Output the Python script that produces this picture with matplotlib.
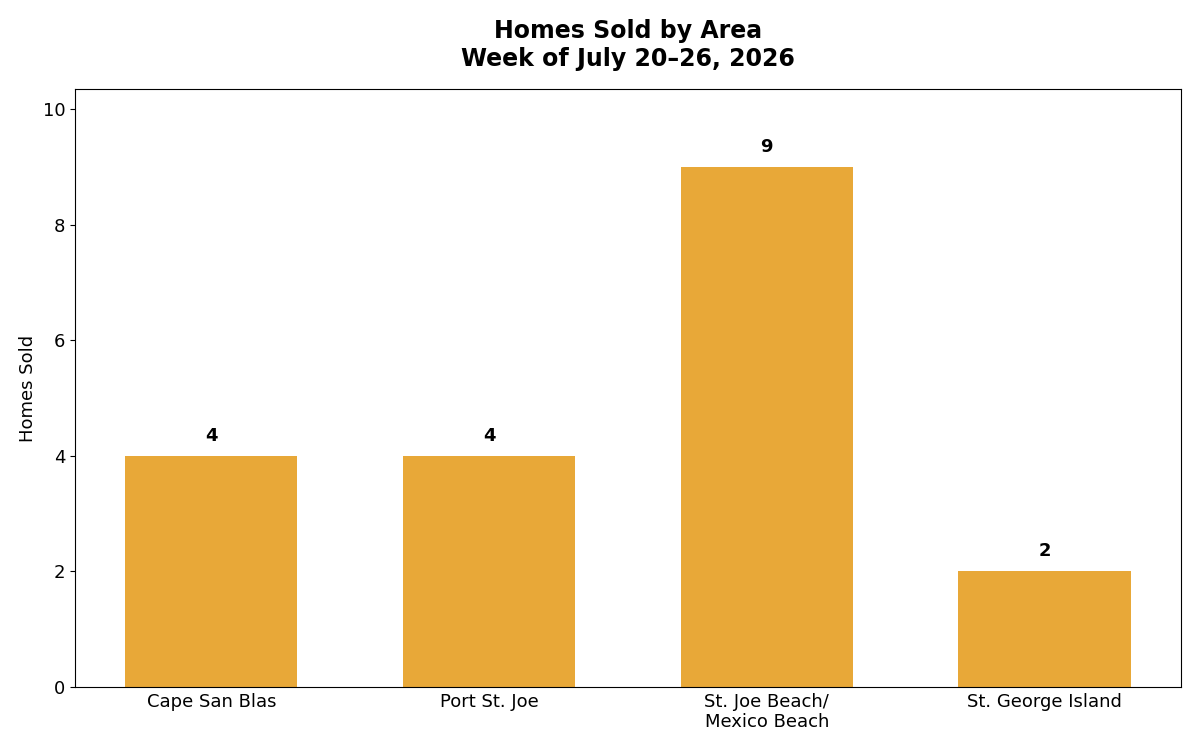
import matplotlib
matplotlib.use('Agg')
import matplotlib.pyplot as plt

# data
areas = ['Cape San Blas', 'Port St. Joe', 'St. Joe Beach/\nMexico Beach', 'St. George Island']
homes_sold = [4, 4, 9, 2]

fig, ax = plt.subplots(figsize=(12, 7.5), dpi=100)

bars = ax.bar(areas, homes_sold, width=0.62, color='#E8A838')

for b, v in zip(bars, homes_sold):
    ax.annotate(str(v), (b.get_x() + b.get_width() / 2, v),
                xytext=(0, 8), textcoords='offset points',
                ha='center', va='bottom', fontsize=13, fontweight='bold')

ax.set_ylim(0, max(homes_sold) * 1.15)
ax.set_ylabel('Homes Sold', fontsize=13)
ax.set_title('Homes Sold by Area\nWeek of July 20\u201326, 2026',
             fontsize=17, fontweight='bold', pad=17)
ax.tick_params(axis='both', labelsize=13)
ax.tick_params(axis='x', length=0, pad=4)

plt.subplots_adjust(left=0.0625, right=0.984, top=0.881, bottom=0.084)
plt.savefig('out.png', dpi=100)
